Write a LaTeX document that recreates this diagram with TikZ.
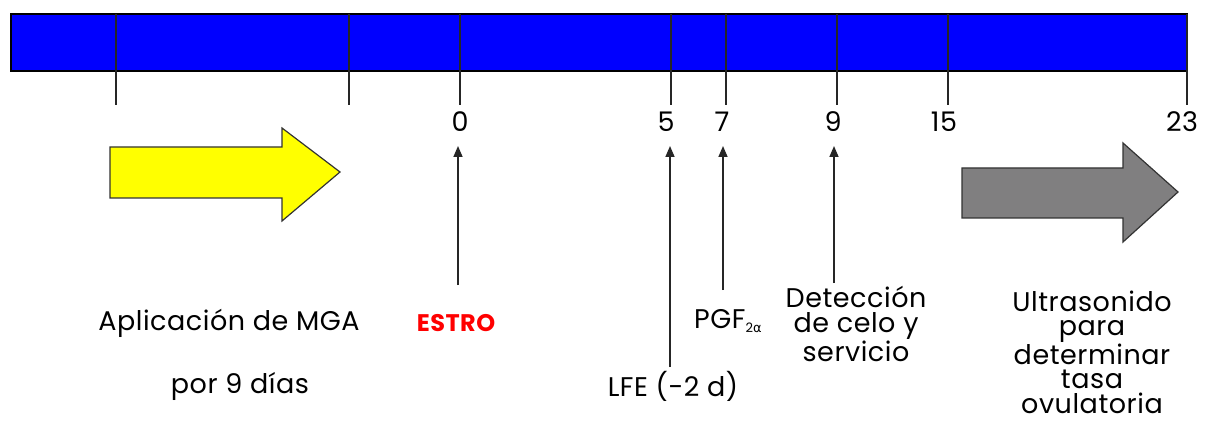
\documentclass[tikz,border=0pt]{standalone}
\usepackage{fontspec}
\setmainfont{Poppins}[LetterSpace=2]
\newfontfamily\greekfont{DejaVu Sans}
\usetikzlibrary{arrows.meta}
\definecolor{barblue}{RGB}{0,0,255}
\definecolor{arrowyellow}{RGB}{255,255,0}
\definecolor{arrowgray}{RGB}{128,127,128}
\definecolor{estrored}{RGB}{255,0,0}
\tikzset{
  tick/.style={line width=1.6pt, draw=black!85},
  daylabel/.style={inner sep=0pt, font=\fontsize{27}{27}\selectfont},
  caption/.style={inner sep=0pt, align=center, font=\fontsize{27}{25}\selectfont},
  uparrow/.style={line width=1.6pt, draw=black!85, -{Triangle[length=11pt,width=9pt]}},
  blockarrow/.style={draw=black!80, line width=1.2pt, line join=miter}
}
\begin{document}
\begin{tikzpicture}[x=1pt,y=-1pt]
\useasboundingbox (0,0) rectangle (1207,422);
% timeline bar
\draw[fill=barblue, line width=1.8pt] (11,14) rectangle (1187,71);
\foreach \x in {116,349,460,671,726,837,948,1187}
  \draw[tick] (\x,14) -- (\x,105);
% day numbers
\node[daylabel] (d0)  at (460,122) {0};
\node[daylabel] (d5)  at (666,122) {5};
\node[daylabel] (d7)  at (722,122) {7};
\node[daylabel] (d9)  at (833,122) {9};
\node[daylabel] (d15) at (944,122) {15};
\node[daylabel] (d23) at (1182,122) {23};
% block arrows
\draw[blockarrow, fill=arrowyellow] (110,147) -- (282,147) -- (282,128) -- (340,172) -- (282,221) -- (282,198) -- (110,198) -- cycle;
\draw[blockarrow, fill=arrowgray] (962,168) -- (1123,168) -- (1123,143) -- (1178,192) -- (1123,242) -- (1123,218) -- (962,218) -- cycle;
% captions
\node[caption] (mga) at (229,323) {Aplicación de MGA};
\node[caption] (dias) at (240,386) {por 9 días};
\node[caption, text=estrored, font=\fontsize{24}{26}\selectfont\bfseries] (estro) at (456,323) {ESTRO};
\node[caption] (lfe) at (673,386) {LFE (-2 d)};
\node[caption, anchor=west] (pgf) at (694,321) {PGF\raisebox{-4pt}{\fontsize{13}{13}\selectfont 2\greekfont α}};
\node[caption] (det) at (856,324) {Detección\\de celo y\\servicio};
\node[caption, font=\fontsize{27}{24.5}\selectfont] (ultra) at (1092,352) {Ultrasonido\\para\\determinar\\tasa\\ovulatoria};
% event arrows
\coordinate (e0) at (458,285); \coordinate (h0) at (458,146);
\coordinate (e5) at (670,367); \coordinate (h5) at (670,146);
\coordinate (e7) at (723,290); \coordinate (h7) at (723,146);
\coordinate (e9) at (834,283); \coordinate (h9) at (834,146);
\draw[uparrow] (e0) -- (h0);
\draw[uparrow] (e5) -- (h5);
\draw[uparrow] (e7) -- (h7);
\draw[uparrow] (e9) -- (h9);
\end{tikzpicture}
\end{document}
